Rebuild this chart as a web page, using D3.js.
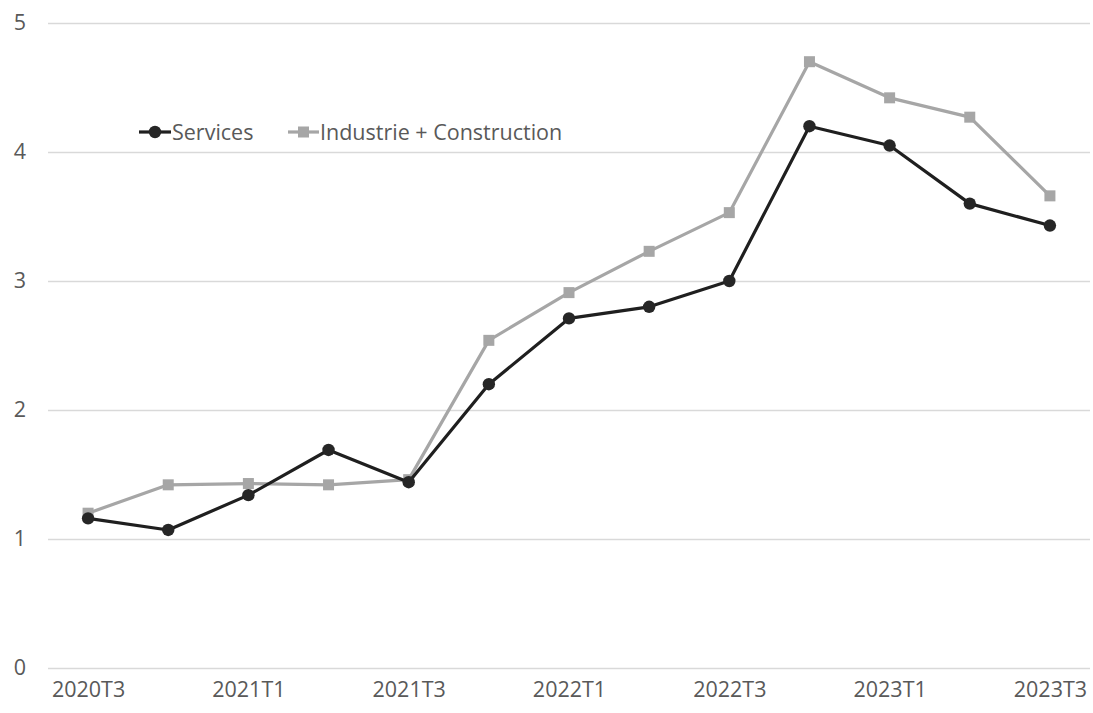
<!DOCTYPE html>
<html><head><meta charset="utf-8">
<script src="https://cdn.jsdelivr.net/npm/d3@7"></script>
<style>body{margin:0;background:#fff}svg{display:block}text{font-family:"Open Sans",Lato,sans-serif}</style>
</head><body><svg id="c" width="1093" height="713"></svg>
<script>
const categories = ["2020T3","2020T4","2021T1","2021T2","2021T3","2021T4","2022T1","2022T2","2022T3","2022T4","2023T1","2023T2","2023T3"];
const services = [1.16,1.07,1.34,1.69,1.44,2.20,2.71,2.80,3.00,4.20,4.05,3.60,3.43];
const industrie = [1.20,1.42,1.43,1.42,1.46,2.54,2.91,3.23,3.53,4.70,4.42,4.27,3.66];
const yTicks = [0,1,2,3,4,5];
const xTickLabels = ["2020T3","2021T1","2021T3","2022T1","2022T3","2023T1","2023T3"];

(function(){
const svg = d3.select("#c");
const mL = 48, mR = 1090, mT = 23, mB = 668;
const fs = "21.5px";
const x = d3.scaleBand().domain(categories).range([mL, mR]);
const xc = d => x(d) + x.bandwidth()/2;
const y = d3.scaleLinear().domain([0,5]).range([mB, mT]);

const yAxis = svg.append("g").attr("transform",`translate(${mL},0)`)
  .call(d3.axisLeft(y).tickValues(yTicks).tickSize(-(mR-mL)).tickFormat(d3.format("d")));
yAxis.select(".domain").remove();
yAxis.selectAll(".tick line").attr("stroke","#d9d9d9").attr("stroke-width",1.3);
yAxis.selectAll(".tick text").attr("x",-22).attr("fill","#595959").style("font-size",fs).attr("dy","0.32em");

const xAxis = svg.append("g").attr("transform",`translate(0,${mB})`)
  .call(d3.axisBottom(d3.scalePoint().domain(categories).range([xc(categories[0]), xc(categories[categories.length-1])]))
    .tickValues(xTickLabels).tickSize(0).tickPadding(14));
xAxis.select(".domain").remove();
xAxis.selectAll(".tick text").attr("fill","#595959").style("font-size",fs);

const line = d3.line().x((d,i)=>xc(categories[i])).y(d=>y(d));
svg.append("path").datum(industrie).attr("d",line).attr("fill","none").attr("stroke","#a6a6a6").attr("stroke-width",3.2).attr("stroke-linejoin","round");
svg.selectAll(".sq").data(industrie).join("rect").attr("x",(d,i)=>xc(categories[i])-5.5).attr("y",d=>y(d)-5.5).attr("width",11).attr("height",11).attr("fill","#a6a6a6");
svg.append("path").datum(services).attr("d",line).attr("fill","none").attr("stroke","#1f1f1f").attr("stroke-width",3.2).attr("stroke-linejoin","round");
svg.selectAll(".ci").data(services).join("circle").attr("cx",(d,i)=>xc(categories[i])).attr("cy",d=>y(d)).attr("r",6.2).attr("fill","#262626");

const lg = svg.append("g").attr("transform","translate(0,132)");
lg.append("line").attr("x1",139).attr("x2",171).attr("stroke","#1f1f1f").attr("stroke-width",3.2);
lg.append("circle").attr("cx",155).attr("r",6.2).attr("fill","#262626");
lg.append("text").attr("x",172).attr("dy","0.35em").attr("fill","#595959").style("font-size",fs).text("Services");
lg.append("line").attr("x1",288).attr("x2",319).attr("stroke","#a6a6a6").attr("stroke-width",3.2);
lg.append("rect").attr("x",298).attr("y",-5.5).attr("width",11).attr("height",11).attr("fill","#a6a6a6");
lg.append("text").attr("x",320).attr("dy","0.35em").attr("fill","#595959").style("font-size",fs).text("Industrie + Construction");
})();
</script></body></html>
